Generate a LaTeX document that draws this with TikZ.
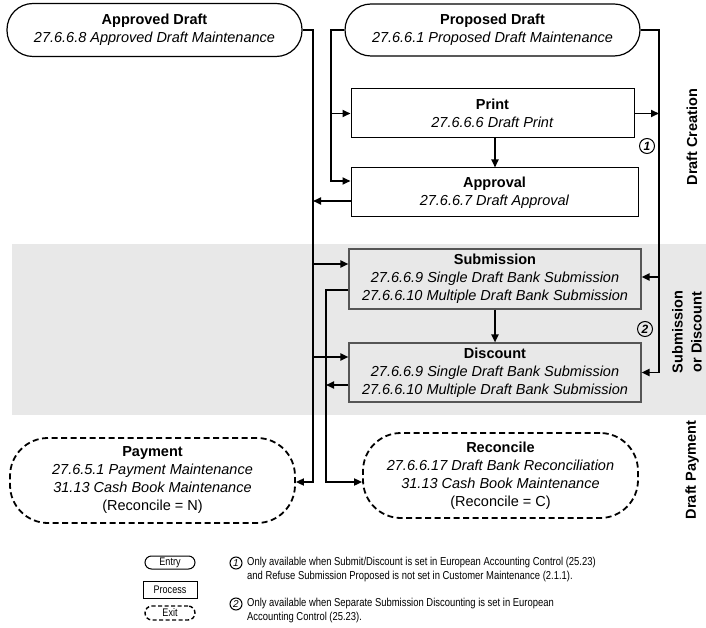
\documentclass[tikz,border=0pt]{standalone}
\usepackage{fontspec}
\setmainfont{Liberation Sans}
\newfontfamily\narrowfont{Liberation Sans}[FakeStretch=0.82]
\usetikzlibrary{arrows.meta,calc}
\definecolor{band}{HTML}{E8E8E8}
\definecolor{boxline}{HTML}{555555}
\begin{document}
\begin{tikzpicture}[x=1pt,y=-1pt,
  every node/.style={font=\fontsize{14.5}{18}\selectfont, align=center, inner sep=0pt},
  entry/.style={draw, line width=1.2pt, rounded corners=26pt},
  proc/.style={draw, line width=1pt},
  grayproc/.style={draw=boxline, fill=band, line width=1.1pt},
  exitn/.style={draw, line width=1.8pt, dash pattern=on 6pt off 3.5pt, rounded corners=38pt},
  conn/.style={line width=1.8pt, -{Triangle[length=8pt,width=7pt]}},
  num/.style={draw, circle, line width=1pt, minimum size=15pt, font=\fontsize{12}{12}\selectfont\bfseries\itshape},
  side/.style={rotate=90, font=\fontsize{14.5}{20}\selectfont\bfseries},
  legtxt/.style={font=\narrowfont\fontsize{11}{12}\selectfont},
  note/.style={anchor=west, align=left, font=\narrowfont\fontsize{11.5}{14}\selectfont}
]
\useasboundingbox (0,0) rectangle (706,628);
\fill[band] (12,244) rectangle (706,415);

% main nodes
\node[entry, minimum width=295pt, minimum height=53pt] (AD) at (154.5,30) {\textbf{Approved Draft}\\\textit{27.6.6.8 Approved Draft Maintenance}};
\node[entry, minimum width=295pt, minimum height=52pt] (PD) at (492.5,30) {\textbf{Proposed Draft}\\\textit{27.6.6.1 Proposed Draft Maintenance}};
\node[proc, minimum width=283pt, minimum height=49pt] (PR) at (492.5,113.5) {\textbf{Print}\\\textit{27.6.6.6 Draft Print}};
\node[proc, minimum width=287pt, minimum height=49pt] (AP) at (494.5,192.5) {\textbf{Approval}\\\textit{27.6.6.7 Draft Approval}};
\node[grayproc, minimum width=292pt, minimum height=60pt] (SB) at (495,279) {\textbf{Submission}\\\textit{27.6.6.9 Single Draft Bank Submission}\\\textit{27.6.6.10 Multiple Draft Bank Submission}};
\node[grayproc, minimum width=292pt, minimum height=59pt] (DC) at (495,372.5) {\textbf{Discount}\\\textit{27.6.6.9 Single Draft Bank Submission}\\\textit{27.6.6.10 Multiple Draft Bank Submission}};
\node[exitn, minimum width=285pt, minimum height=85pt] (PM) at (152.5,480.5) {\textbf{Payment}\\\textit{27.6.5.1 Payment Maintenance}\\\textit{31.13 Cash Book Maintenance}\\(Reconcile = N)};
\node[exitn, minimum width=275pt, minimum height=85pt] (RC) at (500.5,475.5) {\textbf{Reconcile}\\\textit{27.6.6.17 Draft Bank Reconciliation}\\\textit{31.13 Cash Book Maintenance}\\(Reconcile = C)};

% condition markers
\node[num] (C1) at (647,146) {1};
\node[num] (C2) at (645,329) {2};

% side labels
\node[side] (L1) at (692,137) {Draft Creation};
\node[side, font=\fontsize{14.5}{19}\selectfont\bfseries] (L2) at (687,332) {Submission\\or Discount};
\node[side] (L3) at (692,470) {Draft Payment};

% bus coordinates
\coordinate (xa) at (313,0);
\coordinate (xb) at (331,0);
\coordinate (xc) at (326,0);
\coordinate (xd) at (659,0);
\coordinate (xv) at (495,0);

\coordinate (PMin) at ([yshift=-1.5pt]PM.east);
\coordinate (RCin) at ([yshift=-6.5pt]RC.west);
\coordinate (APout) at ([yshift=-8.5pt]AP.west);
\coordinate (APin) at ([yshift=11.5pt]AP.west);
\coordinate (SBin) at ([yshift=15pt]SB.west);
\coordinate (SBout) at ([yshift=-11pt]SB.west);
\coordinate (DCin) at ([yshift=15.5pt]DC.west);
\coordinate (DCout) at ([yshift=-12.5pt]DC.west);
\coordinate (SBr) at ([yshift=2pt]SB.east);

% line A
\draw[conn] (AD.east) -| (xa |- PMin) -- (PMin);
\draw[conn] (APout) -- (xa |- APout);
\draw[conn] (xa |- SBin) -- (SBin);
\draw[conn] (xa |- DCin) -- (DCin);
% line B
\draw[conn] (PD.west) -| (xb |- APin) -- (APin);
\draw[conn] (xb |- PR.west) -- (PR.west);
% line C
\draw[conn] (SBout) -| (xc |- RCin) -- (RCin);
\draw[conn] (DCout) -- (xc |- DCout);
% line D
\draw[conn] (PD.east) -| (xd |- DC.east) -- (DC.east);
\draw[conn] (PR.east) -- (xd |- PR.east);
\draw[conn] (xd |- SBr) -- (SBr);
% vertical
\draw[conn] (xv |- PR.south) -- (xv |- AP.north);
\draw[conn] (xv |- SB.south) -- (xv |- DC.north);

% legend
\node[entry, legtxt, rounded corners=6.5pt, line width=1pt, minimum width=50pt, minimum height=13pt] (LE) at (170,562.5) {Entry};
\node[proc, legtxt, minimum width=54pt, minimum height=17pt] (LP) at (170,589.5) {Process};
\node[exitn, legtxt, rounded corners=7pt, line width=1.4pt, dash pattern=on 4pt off 2.5pt, minimum width=50pt, minimum height=14pt] (LX) at (170,613) {Exit};

\node[num, minimum size=12pt, font=\fontsize{10}{10}\selectfont\itshape] (N1) at (236,563) {1};
\node[note] (T1) at (247,570) {Only available when Submit/Discount is set in European Accounting Control (25.23)\\and Refuse Submission Proposed is not set in Customer Maintenance (2.1.1).};
\node[num, minimum size=12pt, font=\fontsize{10}{10}\selectfont\itshape] (N2) at (236,604) {2};
\node[note] (T2) at (247,611) {Only available when Separate Submission Discounting is set in European\\Accounting Control (25.23).};
\end{tikzpicture}
\end{document}
